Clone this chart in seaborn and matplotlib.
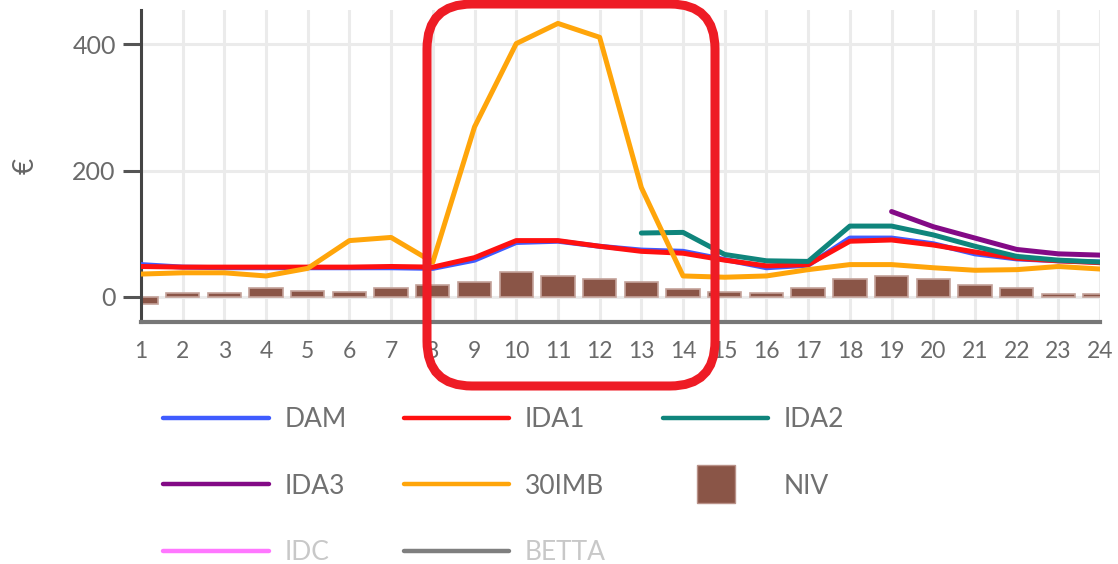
import matplotlib
matplotlib.use("Agg")
import matplotlib.pyplot as plt
import seaborn as sns
from matplotlib.lines import Line2D
from matplotlib.patches import FancyBboxPatch
from matplotlib.transforms import IdentityTransform

# hourly values (EUR)
hours = list(range(1, 25))
dam = [51, 47, 46, 46, 46, 46, 46, 45, 58, 86, 88, 80, 74, 72, 59, 46, 50, 93, 93, 84, 68, 60, 57, 55]
ida1 = [48, 47, 47, 47, 47, 47, 48, 47, 62, 89, 89, 80, 72, 69, 58, 49, 51, 88, 90, 82, 71, 61, 57, 54]
ida2_hours = hours[12:]
ida2 = [101, 102, 67, 57, 56, 112, 112, 98, 80, 64, 58, 55]
ida3_hours = hours[18:]
ida3 = [135, 111, 93, 75, 68, 66]
imb30 = [36, 38, 38, 33, 45, 89, 94, 55, 269, 401, 433, 411, 173, 33, 31, 33, 43, 51, 51, 46, 42, 43, 48, 44]
niv = [-12, 6, 6, 14, 9, 7, 14, 19, 24, 39, 33, 28, 24, 12, 7, 6, 14, 28, 33, 28, 19, 14, 5, 5]

colors = {
    "DAM": "#3f5cff", "IDA1": "#ff1010", "IDA2": "#0f857c", "IDA3": "#830a86",
    "30IMB": "#ffa50a", "NIV": "#8a5547", "IDC": "#ff77ff", "BETTA": "#7f7f7f",
}

sns.set_style("white")
plt.rcParams["font.family"] = ["Lato", "DejaVu Sans"]

fig, ax = plt.subplots(figsize=(11.18, 5.64), dpi=100)
fig.subplots_adjust(left=0.126, right=0.984, bottom=0.429, top=0.982)

sns.barplot(x=hours, y=niv, native_scale=True, width=0.8, color=colors["NIV"],
            saturation=1, edgecolor="#c4a29a", linewidth=1.2, errorbar=None, ax=ax, zorder=2)

lw = 3.6
sns.lineplot(x=hours, y=dam, color=colors["DAM"], linewidth=lw, ax=ax, zorder=3)
sns.lineplot(x=hours, y=ida1, color=colors["IDA1"], linewidth=lw, ax=ax, zorder=4)
sns.lineplot(x=ida2_hours, y=ida2, color=colors["IDA2"], linewidth=lw, ax=ax, zorder=5)
sns.lineplot(x=ida3_hours, y=ida3, color=colors["IDA3"], linewidth=lw, ax=ax, zorder=6)
sns.lineplot(x=hours, y=imb30, color=colors["30IMB"], linewidth=lw, ax=ax, zorder=7)

ax.set_xlim(1, 24)
ax.set_ylim(-40, 454)
ax.set_xticks(hours)
ax.set_xticklabels([str(h) for h in hours])
ax.set_yticks([0, 200, 400])
ax.set_xlabel("")
ax.set_ylabel("€", fontsize=20, color="#666666", labelpad=24)

ax.grid(True, color="#ebebeb", linewidth=2.2)
ax.set_axisbelow(True)
ax.tick_params(axis="y", length=13, width=2.2, color="#555555", labelsize=18,
               labelcolor="#6a6a6a", pad=5, left=True)
ax.tick_params(axis="x", length=0, labelsize=16.5, labelcolor="#6a6a6a", pad=14)
for side in ("top", "right"):
    ax.spines[side].set_visible(False)
ax.spines["left"].set_color("#444444")
ax.spines["left"].set_linewidth(2.2)
ax.spines["bottom"].set_color("#777777")
ax.spines["bottom"].set_linewidth(3)

# legend, filled column by column so it reads row-wise
order = ["DAM", "IDA3", "IDC", "IDA1", "30IMB", "BETTA", "IDA2", "NIV"]
handles = []
for name in order:
    if name == "NIV":
        handles.append(Line2D([], [], marker="s", linestyle="none", markersize=28,
                              color=colors[name], markeredgecolor="#b99289"))
    else:
        handles.append(Line2D([], [], color=colors[name], linewidth=3.2))
leg = fig.legend(handles, order, loc="upper left", bbox_to_anchor=(0.146, 0.278), ncol=3,
                 frameon=False, fontsize=19, handlelength=4, handletextpad=0.6,
                 columnspacing=2.15, labelspacing=1.57, borderpad=0, borderaxespad=0)
for txt, name in zip(leg.get_texts(), order):
    txt.set_color("#c8c8c8" if name in ("IDC", "BETTA") else "#707070")

# red highlight box around hours 8-14
box = FancyBboxPatch((427, 178), 288, 382, boxstyle="round,pad=0,rounding_size=45",
                     linewidth=6.5, edgecolor="#ee1c25", facecolor="none",
                     transform=IdentityTransform(), zorder=20, clip_on=False)
fig.add_artist(box)

fig.savefig("out.png", dpi=100)
